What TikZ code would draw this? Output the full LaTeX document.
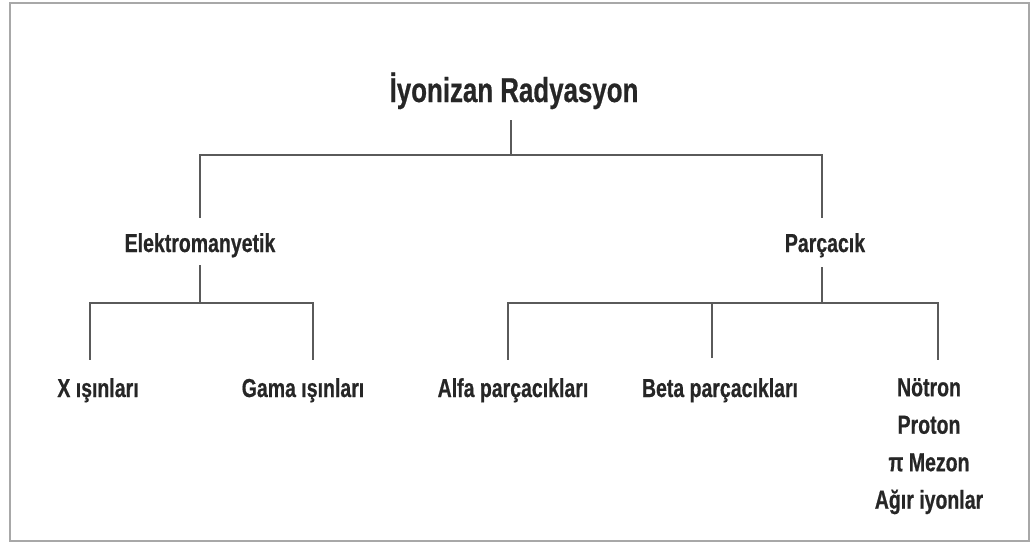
\documentclass[tikz,border=0pt]{standalone}
\usepackage{fontspec}
\setmainfont{Liberation Sans}[FakeStretch=0.75,FakeBold=0.6]
\definecolor{txt}{HTML}{262626}
\definecolor{ln}{HTML}{5A5A5A}
\definecolor{frm}{HTML}{A8A8A8}
\begin{document}
\begin{tikzpicture}[x=1pt,y=-1pt,
  lbl/.style={anchor=base,inner sep=0pt,text=txt,font=\bfseries\fontsize{26}{37.5}\selectfont,align=center},
  ttl/.style={anchor=base,inner sep=0pt,text=txt,font=\bfseries\fontsize{34.5}{40}\selectfont},
  conn/.style={draw=ln,line width=1.6pt}]
\useasboundingbox (0,0) rectangle (1034,544);
\draw[frm,line width=2pt] (10,3) rectangle (1029,541);
% nodes
\node[ttl] (root) at (514,102) {İyonizan Radyasyon};
\node[lbl] (elm) at (200,252) {Elektromanyetik};
\node[lbl] (par) at (825,252) {Parçacık};
\node[lbl] (xr) at (98,397) {X ışınları};
\node[lbl] (gr) at (303,397) {Gama ışınları};
\node[lbl] (al) at (513,397) {Alfa parçacıkları};
\node[lbl] (be) at (720,397) {Beta parçacıkları};
\node[lbl,anchor=north] (ot) at (929,378) {Nötron\\Proton\\π Mezon\\Ağır iyonlar};
% connector ends
\coordinate (rootS) at (511,120);
\coordinate (elmN) at (200,218);
\coordinate (elmS) at (200,265);
\coordinate (parN) at (822,218);
\coordinate (parS) at (822,267);
\coordinate (xrN) at (90,360);
\coordinate (grN) at (313,360);
\coordinate (alN) at (508,360);
\coordinate (beN) at (712,358);
\coordinate (otN) at (938,360);
% connectors
\draw[conn] (rootS) -- ++(0,35) -| (elmN);
\draw[conn] (rootS) -- ++(0,35) -| (parN);
\draw[conn] (elmS) -- ++(0,38) -| (xrN);
\draw[conn] (elmS) -- ++(0,38) -| (grN);
\draw[conn] (parS) -- ++(0,36) -| (alN);
\draw[conn] (parS) -- ++(0,36) -| (otN);
\draw[conn] (beN) -- ++(0,-55);
\end{tikzpicture}
\end{document}
